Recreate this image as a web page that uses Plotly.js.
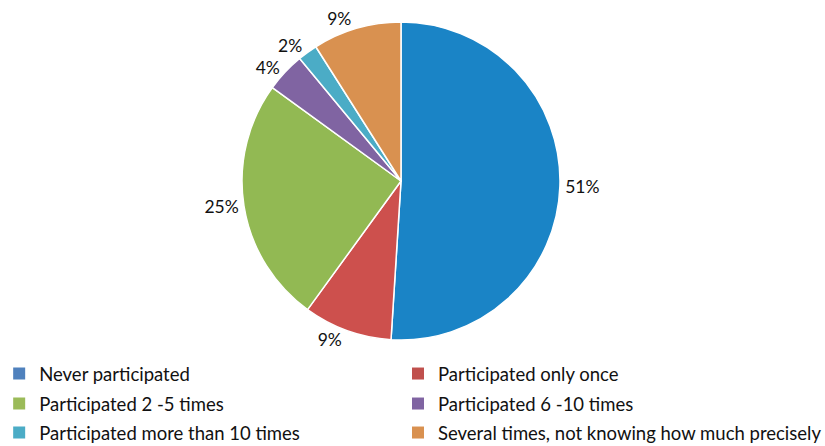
<!DOCTYPE html>
<html><head><meta charset="utf-8">
<script src="https://cdn.plot.ly/plotly-3.0.1.min.js"></script>
<style>body{margin:0;background:#fff}#chart{width:825px;height:446px}</style>
</head><body><div id="chart"></div>
<script>
const categories = ["Never participated","Participated only once","Participated 2 -5 times","Participated 6 -10 times","Participated more than 10 times","Several times, not knowing how much precisely"];
const values = [51, 9, 25, 4, 2, 9];
const sliceColors = ["#1a84c6","#cd504d","#92b953","#8064a2","#4bacc6","#d99150"];
const legendColors = ["#4f81bd","#c0504d","#9bbb59","#8064a2","#4bacc6","#d99150"];

const FONT = "Lato, 'Open Sans', sans-serif";
const traces = [{
  type: "pie",
  values: values,
  labels: categories,
  sort: false,
  direction: "clockwise",
  rotation: 0,
  textposition: "outside",
  textinfo: "percent",
  texttemplate: "%{percent:.0%}",
  textfont: {family: FONT, size: 17.5, color: "#111"},
  marker: {colors: sliceColors, line: {color: "#fff", width: 1.5}},
  showlegend: false,
  automargin: false,
  hoverinfo: "label+percent",
  domain: {x: [(401-159)/825, (401+159)/825], y: [106/446, 424/446]}
}];

const layout = {
  width: 825, height: 446,
  margin: {l: 0, r: 0, t: 0, b: 0, autoexpand: false},
  paper_bgcolor: "#fff", plot_bgcolor: "#fff",
  xaxis: {visible: false}, yaxis: {visible: false},
  showlegend: true
};

// two-column legend: one legend box per entry (column, row)
const colX = [-0.001, 398 / 825];
const rowY = [374, 404, 433];
categories.forEach((c, i) => {
  const id = i === 0 ? "legend" : "legend" + (i + 1);
  traces.push({type: "scatter", mode: "markers", x: [null], y: [null], name: c, legend: id,
    marker: {symbol: "square", size: 12, color: legendColors[i]}, hoverinfo: "skip"});
  layout[id] = {orientation: "h", x: colX[i % 2], y: (446 - rowY[Math.floor(i / 2)]) / 446,
    xanchor: "left", yanchor: "middle", font: {family: FONT, size: 18.5, color: "#111"},
    itemwidth: 30, bgcolor: "rgba(0,0,0,0)"};
});

Plotly.newPlot("chart", traces, layout, {displayModeBar: false, staticPlot: true});
</script></body></html>
